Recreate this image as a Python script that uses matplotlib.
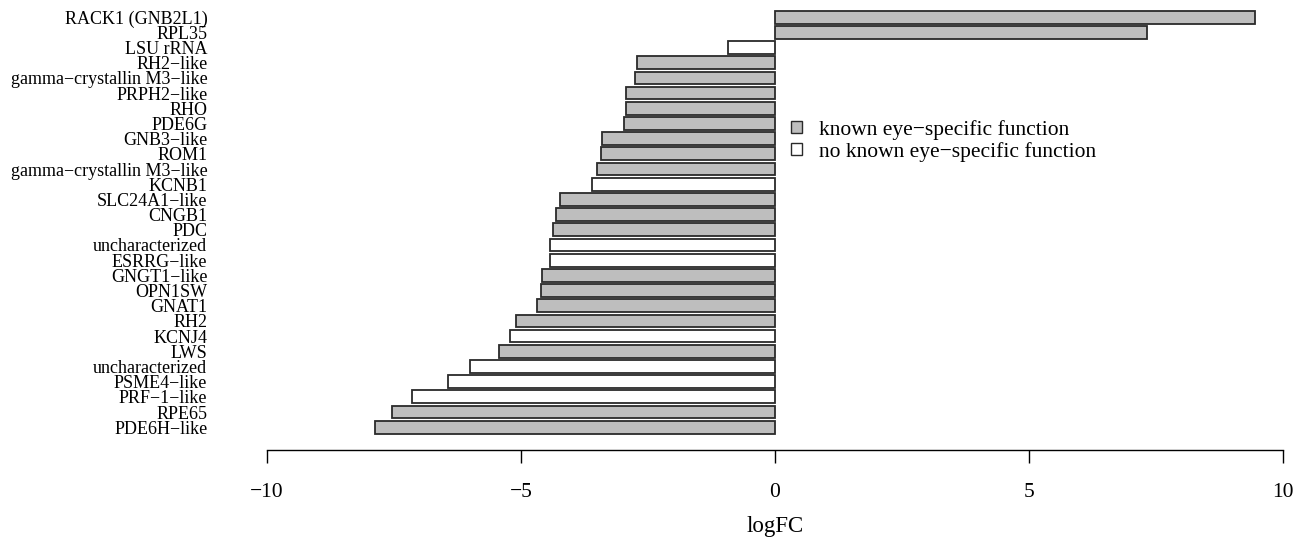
import matplotlib
matplotlib.use("Agg")
import matplotlib.pyplot as plt
from matplotlib.patches import Patch

plt.rcParams['font.family'] = ['Liberation Serif', 'DejaVu Serif']

# genes, top to bottom as in the figure
genes = ["RACK1 (GNB2L1)", "RPL35", "LSU rRNA", "RH2\u2212like",
         "gamma\u2212crystallin M3\u2212like", "PRPH2\u2212like", "RHO", "PDE6G",
         "GNB3\u2212like", "ROM1", "gamma\u2212crystallin M3\u2212like", "KCNB1",
         "SLC24A1\u2212like", "CNGB1", "PDC", "uncharacterized", "ESRRG\u2212like",
         "GNGT1\u2212like", "OPN1SW", "GNAT1", "RH2", "KCNJ4", "LWS",
         "uncharacterized", "PSME4\u2212like", "PRF\u22121\u2212like", "RPE65",
         "PDE6H\u2212like"]
logfc = [9.45, 7.32, -0.93, -2.72, -2.75, -2.94, -2.94, -2.97, -3.41, -3.42,
         -3.51, -3.60, -4.23, -4.32, -4.37, -4.42, -4.42, -4.59, -4.61, -4.68,
         -5.10, -5.22, -5.43, -6.01, -6.44, -7.15, -7.53, -7.87]
# 1 = known eye-specific function, 0 = not known
known = [1, 1, 0, 1, 1, 1, 1, 1, 1, 1, 1, 0, 1, 1, 1, 0, 0, 1, 1, 1, 1, 0, 1,
         0, 0, 0, 1, 1]

xticks = [-10, -5, 0, 5, 10]

grey = "#bebebe"
edge = "#2a2a2a"

fig = plt.figure(figsize=(13.11, 5.37), dpi=100)
ax = fig.add_axes([267/1311, 87/537, (1283-267)/1311, (450-5)/537])

n = len(genes)
ypos = [n - 1 - i for i in range(n)]
colors = [grey if k else "white" for k in known]
ax.barh(ypos, logfc, height=0.84, color=colors, edgecolor=edge,
        linewidth=1.3)

ax.set_xlim(-10, 10)
ax.set_ylim(-1.5, n - 1 + 0.8)
ax.set_yticks(ypos)
ax.set_yticklabels(genes, fontsize=13)
ax.tick_params(axis="y", length=0, pad=43)
ax.set_xticks(xticks)
ax.set_xticklabels([str(t).replace("-", "\u2212") for t in xticks])
ax.tick_params(axis="x", length=9.5, width=1, pad=14, labelsize=15.5)
ax.set_xlabel("logFC", fontsize=16.5, labelpad=10)

for s in ["top", "right", "left"]:
    ax.spines[s].set_visible(False)
ax.spines["bottom"].set_linewidth(1)

handles = [Patch(facecolor=grey, edgecolor=edge, label="known eye\u2212specific function"),
           Patch(facecolor="white", edgecolor=edge, label="no known eye\u2212specific function")]
ax.legend(handles=handles, loc="upper left", bbox_to_anchor=(791/1311, 1 - 120/537),
          bbox_transform=fig.transFigure, frameon=False, fontsize=15.5,
          handlelength=0.5, handleheight=0.5, handletextpad=0.8, labelspacing=0.1,
          borderpad=0, borderaxespad=0)

fig.savefig("out.png", dpi=100)
